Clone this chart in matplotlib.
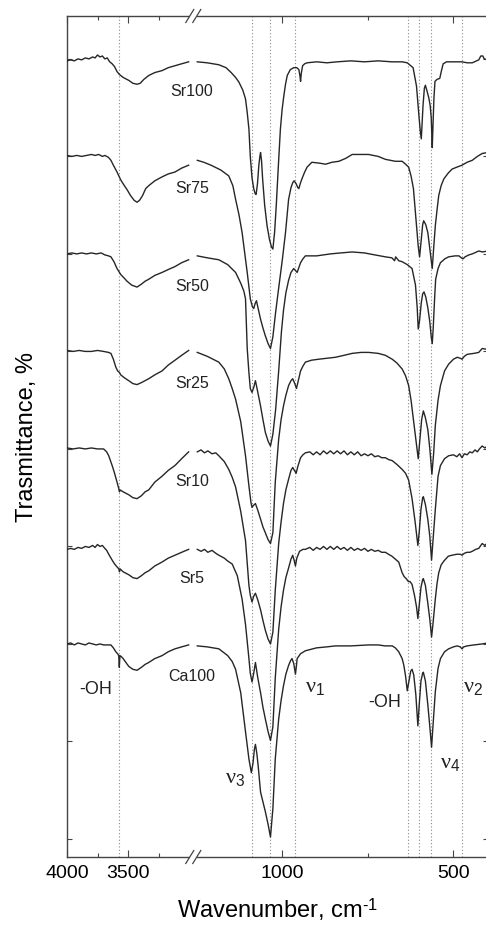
import numpy as np
import matplotlib
matplotlib.use("Agg")
import matplotlib.pyplot as plt
from matplotlib.ticker import FixedLocator, NullFormatter

plt.rcParams['font.family'] = ['Liberation Sans', 'DejaVu Sans']
plt.rcParams['mathtext.fontset'] = 'custom'
plt.rcParams['mathtext.it'] = 'Liberation Serif'
plt.rcParams['mathtext.rm'] = 'Liberation Sans'

# ---- data: (wavenumber, transmittance rel. to baseline) ----
samples = ['Sr100', 'Sr75', 'Sr50', 'Sr25', 'Sr10', 'Sr5', 'Ca100']
offsets = [800, 700, 600, 500, 400, 300, 200]

sr100_hi = [(4000, -2), (3970, -1), (3940, -2), (3910, 0), (3880, -1), (3850, 1), (3820, 0), (3790, 2),
            (3770, 1), (3750, 4), (3730, 2), (3710, 3), (3690, 0), (3670, 1), (3650, -3), (3630, -5),
            (3610, -8), (3590, -13), (3570, -16), (3540, -19), (3494, -22), (3460, -25), (3426, -26),
            (3400, -25), (3370, -21), (3330, -17), (3280, -14), (3221, -12), (3170, -9), (3115, -7),
            (3060, -5), (3003, -3)]
sr100_lo = [(1249, -3), (1220, -4), (1186, -6), (1165, -9), (1150, -14), (1137, -19), (1127, -24),
            (1116, -32), (1108, -41), (1103, -55), (1098, -72), (1094, -100), (1089, -122), (1084, -133),
            (1080, -138), (1077, -139), (1073, -128), (1069, -109), (1066, -100), (1064, -96), (1061, -105),
            (1058, -123), (1052, -150), (1045, -171), (1038, -185), (1032, -193), (1028, -195), (1023, -178),
            (1018, -150), (1012, -110), (1006, -72), (1001, -52), (996, -38), (991, -26), (986, -17),
            (977, -11), (967, -9), (958, -9), (952, -11), (949, -17), (947, -23), (945, -15), (941, -7),
            (935, -5), (928, -4), (900, -3), (870, -4), (840, -3), (800, -2), (760, -3), (720, -2),
            (680, -3), (650, -3), (635, -4), (618, -9), (608, -28), (601, -58), (597, -74), (594, -82),
            (589, -48), (585, -30), (582, -27), (578, -32), (572, -40), (568, -48), (565, -60), (563, -80),
            (562, -91), (560, -70), (557, -40), (554, -23), (548, -21), (540, -20), (535, -12), (530, -5),
            (520, -3), (500, -3), (475, -3), (460, -4), (445, -4), (426, -1), (420, 3), (414, 3),
            (410, 0), (400, -1)]

sr75_hi = [(4000, 1), (3960, 0), (3920, 1), (3880, 0), (3840, 1), (3800, 2), (3770, 1), (3740, 2),
           (3710, 0), (3690, 1), (3660, -1), (3640, -4), (3620, -9), (3590, -16), (3560, -24), (3530, -30),
           (3508, -34), (3480, -40), (3450, -45), (3426, -47), (3405, -45), (3380, -40), (3355, -33),
           (3330, -30), (3280, -25), (3221, -21), (3170, -18), (3115, -16), (3060, -12), (3003, -9)]
sr75_lo = [(1249, -4), (1230, -6), (1209, -9), (1180, -14), (1157, -20), (1145, -30), (1137, -44),
           (1127, -60), (1118, -78), (1110, -100), (1103, -119), (1098, -134), (1094, -146), (1088, -154),
           (1084, -156), (1080, -151), (1076, -148), (1071, -156), (1064, -167), (1057, -176), (1050, -184),
           (1042, -192), (1035, -197), (1028, -185), (1020, -160), (1011, -135), (1000, -105), (991, -78),
           (982, -44), (975, -32), (970, -27), (966, -25), (960, -28), (955, -32), (952, -33), (948, -28),
           (943, -23), (935, -16), (928, -11), (914, -6), (890, -7), (874, -8), (855, -6), (835, -5),
           (815, -2), (796, 2), (770, 2), (748, 2), (720, 0), (699, -3), (670, -5), (650, -5), (640, -8),
           (631, -11), (624, -20), (617, -33), (608, -71), (603, -92), (599, -103), (594, -85), (590, -70),
           (587, -66), (581, -70), (575, -78), (569, -95), (562, -115), (558, -95), (553, -71), (548, -55),
           (543, -40), (536, -30), (528, -23), (515, -17), (504, -13), (490, -11), (475, -9), (460, -6),
           (445, -4), (430, 0), (416, 3), (400, 4)]

sr50_hi = [(4000, 0), (3960, 1), (3920, 0), (3880, 1), (3840, 0), (3800, 1), (3760, 0), (3720, 1),
           (3690, -1), (3660, -2), (3640, -3), (3615, -8), (3590, -15), (3560, -21), (3530, -25),
           (3508, -28), (3470, -32), (3426, -34), (3390, -31), (3360, -28), (3330, -26), (3280, -22),
           (3221, -19), (3170, -16), (3115, -13), (3060, -9), (3003, -6)]
sr50_lo = [(1249, -2), (1220, -4), (1186, -6), (1160, -11), (1137, -19), (1122, -30), (1113, -38),
           (1108, -46), (1103, -97), (1098, -122), (1094, -138), (1089, -142), (1084, -137), (1079, -130),
           (1072, -142), (1064, -156), (1057, -170), (1050, -183), (1042, -192), (1035, -197), (1028, -185),
           (1020, -160), (1011, -120), (1003, -80), (997, -58), (990, -40), (982, -27), (975, -19),
           (967, -15), (962, -17), (957, -19), (952, -14), (947, -9), (940, -5), (933, -2), (900, -2),
           (860, 0), (830, 1), (796, 2), (760, 1), (730, -1), (699, -3), (680, -4), (672, -7), (669, -3),
           (660, -7), (650, -8), (635, -11), (621, -15), (611, -32), (606, -55), (603, -77), (599, -68),
           (594, -50), (590, -41), (586, -39), (581, -44), (575, -55), (569, -70), (565, -85), (562, -92),
           (559, -75), (555, -45), (552, -26), (545, -15), (538, -9), (525, -5), (514, -3), (495, -2),
           (484, -2), (477, -4), (472, -5), (466, -3), (455, -1), (445, 0), (426, 3), (415, 2), (400, 3)]

sr25_hi = [(4000, 1), (3950, 0), (3900, 1), (3850, 0), (3800, 0), (3750, 1), (3700, 0), (3660, -1),
           (3640, -2), (3620, -8), (3600, -16), (3585, -20), (3575, -21), (3568, -22), (3560, -24),
           (3530, -27), (3494, -30), (3460, -33), (3426, -34), (3390, -32), (3360, -30), (3330, -28),
           (3280, -24), (3221, -20), (3170, -14), (3115, -9), (3060, -4), (3003, 1)]
sr25_lo = [(1249, -1), (1220, -5), (1186, -11), (1170, -18), (1157, -28), (1147, -38), (1137, -49),
           (1122, -72), (1108, -107), (1098, -138), (1092, -155), (1089, -160), (1085, -158), (1079, -156),
           (1072, -163), (1064, -172), (1057, -180), (1050, -186), (1042, -193), (1035, -197), (1028, -186),
           (1021, -134), (1011, -90), (1004, -70), (997, -56), (990, -45), (982, -35), (975, -30),
           (970, -28), (964, -33), (959, -38), (955, -32), (947, -20), (940, -15), (933, -11), (915, -9),
           (894, -8), (870, -7), (845, -6), (820, -4), (796, -2), (770, -1), (748, -1), (720, -2),
           (699, -4), (679, -8), (665, -12), (650, -18), (640, -25), (631, -35), (624, -50), (617, -70),
           (610, -90), (603, -110), (598, -90), (593, -70), (588, -61), (582, -68), (575, -80), (569, -100),
           (563, -126), (558, -105), (553, -76), (545, -50), (538, -35), (526, -20), (514, -13), (500, -8),
           (489, -6), (480, -7), (475, -8), (468, -5), (460, -3), (440, -2), (426, -1), (416, 3), (400, 2)]

sr10_hi = [(4000, 1), (3950, 0), (3900, 1), (3850, 0), (3800, 1), (3750, 0), (3700, 0), (3675, -3),
           (3658, -7), (3630, -17), (3610, -25), (3590, -34), (3575, -41), (3570, -44), (3565, -42),
           (3540, -44), (3494, -47), (3460, -50), (3426, -51), (3390, -48), (3360, -44), (3330, -42),
           (3280, -34), (3221, -28), (3170, -22), (3115, -17), (3060, -10), (3003, -3)]
sr10_lo = [(1249, -3), (1238, -1), (1228, -4), (1218, -2), (1206, -5), (1195, -4), (1186, -7),
           (1170, -13), (1157, -21), (1147, -29), (1137, -39), (1122, -64), (1108, -94), (1098, -140),
           (1094, -150), (1089, -157), (1084, -151), (1079, -148), (1072, -155), (1064, -165), (1057, -176),
           (1050, -186), (1042, -195), (1035, -200), (1028, -188), (1021, -145), (1011, -97), (1004, -75),
           (997, -56), (990, -42), (982, -31), (975, -22), (970, -19), (965, -22), (960, -25), (955, -18),
           (947, -9), (940, -6), (933, -4), (920, -3), (910, -6), (900, -3), (890, -6), (880, -2),
           (870, -5), (860, -2), (850, -5), (840, -2), (830, -5), (820, -2), (810, -6), (800, -3),
           (790, -6), (780, -3), (770, -7), (760, -5), (750, -7), (740, -5), (730, -8), (720, -7),
           (710, -9), (699, -9), (689, -11), (679, -12), (665, -16), (650, -21), (640, -25), (631, -32),
           (621, -51), (612, -75), (604, -99), (600, -85), (595, -62), (590, -50), (588, -49), (582, -57),
           (575, -72), (569, -90), (564, -114), (560, -95), (553, -62), (545, -28), (538, -17), (526, -10),
           (514, -7), (500, -6), (490, -8), (482, -5), (475, -9), (468, -5), (460, -6), (452, -3),
           (445, -4), (437, -1), (430, -3), (424, 0), (416, 3), (408, 1), (400, 3)]

sr5_hi = [(4000, -3), (3970, -2), (3940, -3), (3910, -1), (3880, -2), (3850, 0), (3820, -1), (3790, 1),
          (3770, -1), (3750, 2), (3730, 0), (3710, 1), (3690, -2), (3675, -4), (3658, -8), (3630, -14),
          (3610, -18), (3590, -21), (3575, -23), (3570, -26), (3565, -23), (3540, -26), (3494, -29),
          (3460, -32), (3426, -33), (3390, -30), (3360, -27), (3330, -25), (3280, -20), (3221, -16),
          (3170, -12), (3115, -9), (3060, -6), (3003, -3)]
sr5_lo = [(1249, -3), (1238, -5), (1228, -3), (1218, -6), (1206, -4), (1195, -7), (1186, -9), (1170, -12),
          (1160, -15), (1147, -18), (1132, -30), (1118, -54), (1108, -80), (1098, -115), (1094, -130),
          (1089, -139), (1084, -130), (1079, -119), (1072, -135), (1064, -150), (1057, -165), (1050, -177),
          (1042, -190), (1035, -199), (1028, -185), (1021, -135), (1011, -85), (1004, -62), (997, -45),
          (990, -32), (982, -22), (975, -13), (970, -9), (966, -14), (962, -20), (958, -12), (950, -5),
          (940, -3), (933, -3), (920, -1), (910, -4), (900, -1), (890, -3), (880, 0), (870, -3), (860, 0),
          (850, -3), (840, 0), (830, -3), (820, -1), (810, -4), (800, -1), (790, -4), (780, -2), (770, -4),
          (760, -2), (750, -5), (740, -3), (730, -5), (720, -4), (710, -6), (699, -6), (690, -8),
          (680, -10), (670, -13), (660, -16), (650, -27), (644, -31), (638, -33), (632, -36), (627, -36),
          (621, -39), (614, -50), (608, -62), (604, -74), (600, -60), (595, -42), (590, -34), (588, -33),
          (582, -40), (575, -58), (569, -75), (564, -93), (560, -80), (553, -54), (548, -38), (543, -27),
          (536, -19), (528, -15), (515, -10), (504, -9), (490, -8), (480, -8), (475, -9), (468, -7),
          (460, -6), (452, -6), (445, -5), (435, -3), (426, -2), (416, 3), (408, 1), (400, 4)]

ca100_hi = [(4000, 0), (3970, 1), (3940, -1), (3910, 1), (3880, 0), (3850, -1), (3820, 1), (3790, 0),
            (3760, -1), (3730, 0), (3700, -1), (3670, -1), (3640, -1), (3620, -4), (3600, -8), (3585, -10),
            (3576, -12), (3573, -18), (3571, -24), (3569, -18), (3566, -12), (3555, -13), (3540, -15),
            (3494, -23), (3460, -26), (3426, -27), (3390, -24), (3360, -21), (3330, -19), (3280, -15),
            (3221, -12), (3170, -8), (3115, -5), (3060, -3), (3003, -1)]
ca100_lo = [(1249, -2), (1220, -3), (1186, -5), (1160, -12), (1147, -18), (1137, -26), (1122, -50),
            (1108, -90), (1098, -118), (1094, -126), (1091, -132), (1086, -122), (1082, -108), (1079, -103),
            (1075, -112), (1071, -125), (1064, -152), (1057, -162), (1050, -172), (1042, -185), (1035, -198),
            (1028, -169), (1021, -118), (1011, -77), (1004, -58), (997, -43), (990, -31), (982, -22),
            (976, -17), (972, -15), (967, -20), (962, -31), (959, -22), (957, -15), (947, -10), (933, -7),
            (900, -4), (870, -3), (845, -2), (800, -2), (748, -1), (720, -1), (700, -2), (679, -2),
            (670, -4), (660, -8), (650, -15), (645, -22), (640, -33), (635, -48), (630, -38), (625, -28),
            (621, -26), (616, -32), (610, -52), (604, -84), (600, -62), (595, -38), (590, -30), (588, -29),
            (582, -38), (575, -62), (569, -85), (564, -106), (560, -85), (553, -49), (545, -25), (538, -15),
            (526, -8), (514, -5), (500, -3), (489, -2), (480, -3), (475, -5), (470, -3), (460, -2),
            (440, -1), (416, 0), (400, 1)]

spectra = [(sr100_hi, sr100_lo), (sr75_hi, sr75_lo), (sr50_hi, sr50_lo), (sr25_hi, sr25_lo),
           (sr10_hi, sr10_lo), (sr5_hi, sr5_lo), (ca100_hi, ca100_lo)]

band_lines = [3570, 1090, 1035, 962, 632, 601, 565, 474]
xticks_major = [4000, 3500, 1000, 500]
xticks_minor = [3750, 3250, 750]

# ---- broken wavenumber axis: 4000-2967 and 1260-400 with different px/cm-1 ----
W_HI, W_LO = 2967.0, 1260.0
K_HI, K_LO = 0.122, 0.342
P_B = (4000 - W_HI) * K_HI
GAP = 0.5


def fwd(w):
    w = np.asarray(w, dtype=float)
    p = np.where(w >= W_HI, (4000 - w) * K_HI,
                 np.where(w >= W_LO, P_B + GAP * (W_HI - w) / (W_HI - W_LO),
                          P_B + GAP + (W_LO - w) * K_LO))
    return -p


def inv(q):
    p = -np.asarray(q, dtype=float)
    return np.where(p <= P_B, 4000 - p / K_HI,
                    np.where(p <= P_B + GAP, W_HI - (p - P_B) / GAP * (W_HI - W_LO),
                             W_LO - (p - P_B - GAP) / K_LO))


fig = plt.figure(figsize=(4.86, 9.28), dpi=100)
p_total = float(-fwd(400))
ax = fig.add_axes([67 / 486, 70 / 928, p_total / 486, 841 / 928])
ax.set_xscale('function', functions=(fwd, inv))
ax.set_xlim(4000, 400)
ax.set_ylim(-18.5, 844)

for w in band_lines:
    ax.axvline(w, color='#8a8a8a', lw=0.8, ls=(0, (1, 2)), zorder=1)

for (hi, lo), off in zip(spectra, offsets):
    for seg in (hi, lo):
        arr = np.array(seg, dtype=float)
        ax.plot(arr[:, 0], arr[:, 1] + off, color='#262626', lw=1.0, zorder=3)

for name, off in zip(samples, offsets):
    ax.text(2975, off - 32, name, ha='center', va='center', fontsize=11.5, color='#222222')

# band annotations
ax.text(3762, 154, '-OH', ha='center', va='center', fontsize=13, color='#222222')
ax.text(702, 141, '-OH', ha='center', va='center', fontsize=13, color='#222222')
ax.text(933, 152, r'$\nu_1$', ha='left', va='baseline', fontsize=16, color='#222222')
ax.text(471, 152, r'$\nu_2$', ha='left', va='baseline', fontsize=16, color='#222222')
ax.text(1167, 58, r'$\nu_3$', ha='left', va='baseline', fontsize=16, color='#222222')
ax.text(538, 74, r'$\nu_4$', ha='left', va='baseline', fontsize=16, color='#222222')

# ticks
ax.xaxis.set_major_locator(FixedLocator(xticks_major))
ax.xaxis.set_minor_locator(FixedLocator(xticks_minor))
ax.set_xticklabels([str(t) for t in xticks_major])
ax.xaxis.set_minor_formatter(NullFormatter())
ax.set_yticks(range(0, 801, 100))
ax.tick_params(axis='both', which='both', direction='in', top=True, right=True,
               color='#444444', width=0.8)
ax.tick_params(axis='x', which='major', length=5, labelsize=14, pad=5)
ax.tick_params(axis='x', which='minor', length=3)
ax.tick_params(axis='y', which='major', length=3.5, labelleft=False)
for s in ax.spines.values():
    s.set_color('#444444')
    s.set_linewidth(1.0)

ax.set_xlabel(r'Wavenumber, cm$^{\text{-1}}$', fontsize=17, labelpad=10)
ax.set_ylabel('Trasmittance, %', fontsize=17, labelpad=21)

# axis break marks "//" on top and bottom spines
xb = (P_B + GAP / 2) / p_total
dx, dy, sep = 4 / p_total, 6.5 / 841, 3.5 / p_total
for yb in (0, 1):
    ax.plot([xb - sep, xb + sep], [yb, yb], transform=ax.transAxes, color='white',
            lw=3, clip_on=False, zorder=5, solid_capstyle='butt')
    for c in (xb - sep, xb + sep):
        ax.plot([c - dx, c + dx], [yb - dy, yb + dy], transform=ax.transAxes,
                color='#444444', lw=0.9, clip_on=False, zorder=6)

fig.savefig('out.png', dpi=100)
